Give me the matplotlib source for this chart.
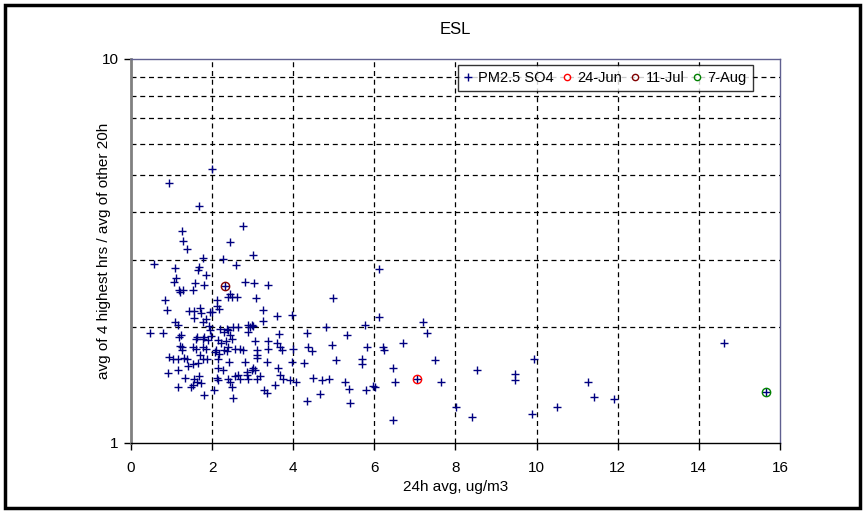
import matplotlib.pyplot as plt
import numpy as np
from matplotlib.patches import Rectangle
from matplotlib.ticker import FixedLocator, NullFormatter

plt.rcParams['font.family'] = ['Liberation Sans', 'DejaVu Sans']

# PM2.5 SO4: 24h avg (ug/m3) vs ratio of top-4 hours to other 20h
so4_x = [0.94, 2.01, 1.67, 2.75, 1.26, 1.29, 2.45, 1.37, 3.00, 1.78, 2.28, 0.57, 2.58, 6.11, 1.08,
         1.68, 1.65, 1.86, 1.12, 1.06, 2.80, 3.04, 3.38, 1.59, 1.79, 1.19, 1.29, 1.53, 1.22, 2.44,
         2.48, 2.61, 2.40, 0.84, 2.13, 3.08, 4.99, 0.88, 1.42, 1.55, 1.56, 1.71, 1.73, 1.77, 1.85,
         1.94, 2.01, 2.11, 2.16, 3.26, 3.60, 3.98, 6.11, 1.09, 1.17, 1.93, 3.26, 4.82, 5.78, 7.19,
         2.20, 2.30, 2.36, 2.52, 2.65, 2.89, 2.93, 2.98, 3.02, 1.96, 2.40, 2.89, 0.46, 0.78, 1.23,
         1.64, 1.80, 1.97, 2.44, 3.66, 4.35, 5.33, 7.29, 1.19, 1.60, 1.77, 1.89, 2.15, 2.34, 2.48,
         3.06, 3.39, 3.59, 2.22, 1.21, 1.25, 1.52, 1.60, 1.77, 1.85, 2.38, 2.56, 2.69, 2.77, 3.10,
         3.39, 3.67, 3.73, 3.99, 4.36, 4.46, 4.95, 5.81, 6.21, 6.24, 6.70, 1.27, 2.10, 2.30, 2.07,
         2.16, 2.36, 3.10, 0.95, 1.04, 1.15, 1.31, 1.39, 1.70, 1.77, 1.87, 2.15, 2.42, 2.81, 3.10,
         3.35, 3.96, 4.27, 5.05, 5.69, 5.69, 7.50, 9.94, 1.40, 1.52, 1.66, 6.47, 0.91, 1.15, 2.15,
         2.26, 2.85, 2.98, 3.02, 3.06, 3.63, 8.52, 1.33, 1.56, 1.68, 1.64, 1.73, 1.52, 1.48, 1.15,
         2.12, 2.15, 2.38, 2.44, 2.56, 2.65, 2.69, 2.85, 2.89, 3.10, 3.18, 3.67, 3.75, 3.92, 4.06,
         3.55, 4.50, 4.70, 4.89, 5.28, 5.38, 5.97, 6.02, 6.51, 7.65, 9.47, 9.47, 11.27, 2.05, 1.79,
         2.48, 2.52, 3.29, 3.35, 4.35, 4.66, 5.79, 11.42, 11.92, 5.40, 6.47, 8.01, 8.41, 9.89, 10.50,
         14.63, 2.33, 7.06, 15.65]
so4_y = [4.75, 5.17, 4.13, 3.68, 3.57, 3.36, 3.34, 3.20, 3.09, 3.03, 3.01, 2.92, 2.91, 2.84, 2.86,
         2.88, 2.82, 2.74, 2.69, 2.63, 2.63, 2.61, 2.58, 2.61, 2.58, 2.51, 2.50, 2.50, 2.47, 2.45,
         2.40, 2.40, 2.40, 2.36, 2.36, 2.38, 2.39, 2.22, 2.20, 2.20, 2.11, 2.25, 2.18, 2.07, 2.10,
         2.19, 2.19, 2.27, 2.23, 2.22, 2.14, 2.15, 2.13, 2.07, 2.03, 2.02, 2.08, 2.01, 2.03, 2.06,
         1.98, 1.94, 1.98, 2.00, 2.01, 2.03, 2.01, 2.03, 2.02, 1.97, 1.97, 1.95, 1.93, 1.93, 1.91,
         1.89, 1.89, 1.90, 1.91, 1.92, 1.93, 1.91, 1.93, 1.89, 1.87, 1.87, 1.85, 1.85, 1.84, 1.87,
         1.84, 1.84, 1.82, 1.82, 1.79, 1.78, 1.78, 1.76, 1.78, 1.76, 1.78, 1.76, 1.76, 1.75, 1.75,
         1.76, 1.78, 1.75, 1.76, 1.78, 1.74, 1.80, 1.78, 1.78, 1.75, 1.82, 1.75, 1.75, 1.75, 1.73,
         1.71, 1.74, 1.69, 1.67, 1.65, 1.65, 1.66, 1.65, 1.69, 1.65, 1.65, 1.65, 1.63, 1.63, 1.66,
         1.63, 1.63, 1.62, 1.64, 1.65, 1.61, 1.64, 1.65, 1.59, 1.61, 1.62, 1.57, 1.52, 1.55, 1.57,
         1.55, 1.53, 1.55, 1.57, 1.55, 1.57, 1.55, 1.48, 1.47, 1.49, 1.44, 1.43, 1.42, 1.40, 1.40,
         1.48, 1.46, 1.47, 1.44, 1.49, 1.50, 1.47, 1.50, 1.47, 1.47, 1.49, 1.50, 1.47, 1.46, 1.44,
         1.42, 1.48, 1.46, 1.47, 1.44, 1.38, 1.41, 1.40, 1.44, 1.44, 1.51, 1.46, 1.44, 1.37, 1.33,
         1.40, 1.31, 1.37, 1.35, 1.29, 1.34, 1.37, 1.32, 1.30, 1.27, 1.15, 1.24, 1.17, 1.19, 1.24,
         1.82, 2.56, 1.47, 1.36]

# highlighted days
day_names = ['24-Jun', '11-Jul', '7-Aug']
day_x = [7.06, 2.33, 15.65]
day_y = [1.47, 2.56, 1.36]
day_colors = ['#ff0000', '#800000', '#008000']

fig = plt.figure(figsize=(8.65, 5.12), dpi=100)
ax = fig.add_axes([0.1514, 0.1348, 0.7503, 0.75])

ax.plot(so4_x, so4_y, linestyle='none', marker='+', color='#000080',
        markersize=6, markeredgewidth=1.0, label='PM2.5 SO4', zorder=3)
for nm, xx, yy, cc in zip(day_names, day_x, day_y, day_colors):
    ax.plot([xx], [yy], linestyle='none', marker='o', markerfacecolor='none',
            markeredgecolor=cc, markersize=6, markeredgewidth=1.0, label=nm, zorder=4)

ax.set_yscale('log')
ax.set_xlim(0, 16)
ax.set_ylim(1, 10)
ax.set_xticks(np.arange(0, 17, 2))
ax.yaxis.set_major_locator(FixedLocator([1, 10]))
ax.set_yticklabels(['1', '10'])
ax.yaxis.set_minor_locator(FixedLocator([2, 3, 4, 5, 6, 7, 8, 9]))
ax.yaxis.set_minor_formatter(NullFormatter())
ax.tick_params(axis='y', which='minor', length=0)
ax.tick_params(axis='both', which='major', direction='out', length=5, width=1,
               labelsize=11, colors='black')
ax.tick_params(axis='y', which='major', pad=4)
ax.tick_params(axis='x', which='major', pad=8)

dash = (0, (4, 3))
for gx in range(2, 16, 2):
    ax.axvline(gx, color='black', linewidth=0.9, linestyle=dash, zorder=1)
for gy in range(2, 10):
    ax.axhline(gy, color='black', linewidth=0.9, linestyle=dash, zorder=1)

ax.spines['left'].set_color('#808080')
ax.spines['left'].set_linewidth(2)
ax.spines['bottom'].set_color('black')
ax.spines['bottom'].set_linewidth(1)
ax.spines['top'].set_color('#606090')
ax.spines['top'].set_linewidth(1)
ax.spines['right'].set_color('#606090')
ax.spines['right'].set_linewidth(1)

ax.set_title('ESL', fontsize=12, pad=18)
ax.set_xlabel('24h avg, ug/m3', fontsize=11)
ax.set_ylabel('avg of 4 highest hrs / avg of other 20h', fontsize=11)
ax.xaxis.set_label_coords(0.5, -0.097)
ax.yaxis.set_label_coords(-0.031, 0.5)

leg = ax.legend(loc='upper right', bbox_to_anchor=(0.958, 0.984), ncol=4,
                fontsize=10.5, frameon=True, fancybox=False, handlelength=0.6,
                handletextpad=0.4, columnspacing=0.6, borderpad=0.4,
                borderaxespad=0)
leg.get_frame().set_edgecolor('black')
leg.get_frame().set_linewidth(1)
for h in leg.legend_handles[1:]:
    h.set_markersize(4.5)

fig.patches.append(Rectangle((5 / 865, 4 / 512), 855 / 865, 503 / 512,
                             transform=fig.transFigure, fill=False,
                             edgecolor='black', linewidth=2.5))

fig.savefig('out.png', dpi=100)
